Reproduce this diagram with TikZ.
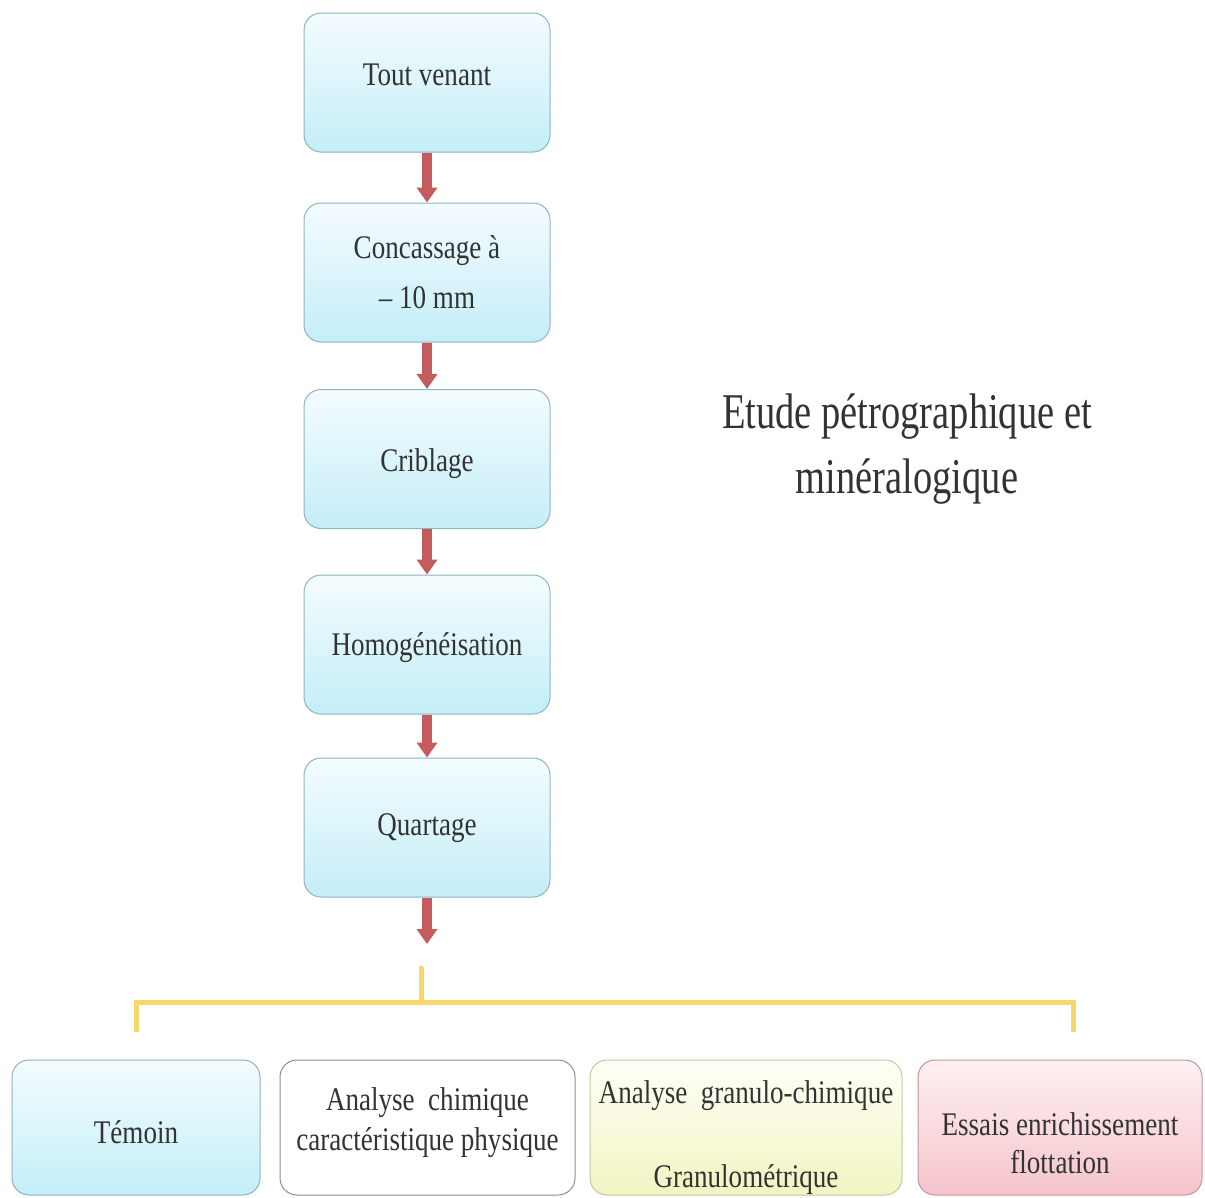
\documentclass[tikz,border=0pt]{standalone}
\usepackage{fontspec}
\setmainfont{Liberation Serif}[FakeStretch=0.82]
\newfontfamily\titlefamily{Liberation Serif}[FakeStretch=0.77]
\usetikzlibrary{arrows.meta}
\definecolor{cyantop}{HTML}{F4FCFE}
\definecolor{cyanbot}{HTML}{C4EEF8}
\definecolor{cyanedge}{HTML}{8DB5BF}
\definecolor{greyedge}{HTML}{8C8C9C}
\definecolor{yeltop}{HTML}{FFFFF6}
\definecolor{yelbot}{HTML}{F1F4C2}
\definecolor{yeledge}{HTML}{C6C6A6}
\definecolor{pinktop}{HTML}{FDF1F3}
\definecolor{pinkbot}{HTML}{F5C4CB}
\definecolor{pinkedge}{HTML}{C69496}
\definecolor{arrowred}{HTML}{C45B5C}
\definecolor{brackety}{HTML}{F6D86C}
\definecolor{inkgrey}{HTML}{333333}
\tikzset{
  box/.style={rectangle, rounded corners=17pt, line width=1pt, align=center,
    text=inkgrey, font=\fontsize{33}{40}\selectfont, inner sep=0pt, text depth=0pt},
  mainbox/.style={box, draw=cyanedge, top color=cyantop, bottom color=cyanbot,
    minimum width=246pt, minimum height=139pt},
  flow/.style={line width=10pt, draw=arrowred, -{Triangle[width=20pt,length=15pt]}},
  bracket/.style={line width=5pt, draw=brackety, line cap=round},
  th/.style={text height=#1}
}
\begin{document}
\begin{tikzpicture}[x=1pt,y=-1pt]
\useasboundingbox[fill=white] (0,0) rectangle (1205,1197);
% main column
\node[mainbox, th=5pt]  (b1) at (427,82.5) {Tout venant};
\node[mainbox, th=71pt] (b2) at (427,272.5) {Concassage à\\[10pt]– 10 mm};
\node[mainbox, th=24pt] (b3) at (427,459) {Criblage};
\node[mainbox, th=21pt] (b4) at (427,644.5) {Homogénéisation};
\node[mainbox, th=15pt] (b5) at (427,827.5) {Quartage};
\coordinate (b5end) at (427,944);
\draw[flow] (b1.south) -- (b2.north);
\draw[flow] (b2.south) -- (b3.north);
\draw[flow] (b3.south) -- (b4.north);
\draw[flow] (b4.south) -- (b5.north);
\draw[flow] (b5.south) -- (b5end);
% title
\node[align=center, text=inkgrey, font=\titlefamily\fontsize{50}{65}\selectfont,
  inner sep=0pt, text depth=0pt] (title) at (907,493) [anchor=base]
  {Etude pétrographique et\\minéralogique};
% bracket
\coordinate (ytop) at (421,968);
\coordinate (ymid) at (421,1002);
\coordinate (yleft) at (136,1032);
\coordinate (yright) at (1073,1032);
\draw[bracket] (ytop) -- (ymid);
\draw[bracket, line cap=butt] (yleft) |- (ymid) -| (yright);
% bottom boxes
\node[box, draw=cyanedge, top color=cyantop, bottom color=cyanbot,
  minimum width=248pt, minimum height=135pt, th=31pt] (tA) at (136,1127.5) {Témoin};
\node[box, draw=greyedge, fill=white,
  minimum width=295pt, minimum height=135pt, th=45pt] (tB) at (427.5,1127.5)
  {Analyse\ \ chimique\\caractéristique physique};
\node[box, draw=yeledge, top color=yeltop, bottom color=yelbot,
  minimum width=312pt, minimum height=135pt, th=119pt] (tC) at (746,1127.5)
  {Analyse\ \ granulo-chimique\\[44pt]Granulométrique};
\node[box, draw=pinkedge, top color=pinktop, bottom color=pinkbot,
  minimum width=284pt, minimum height=135pt, th=91pt] (tD) at (1060,1127.5)
  {Essais enrichissement\\[-2pt]flottation};
\end{tikzpicture}
\end{document}
